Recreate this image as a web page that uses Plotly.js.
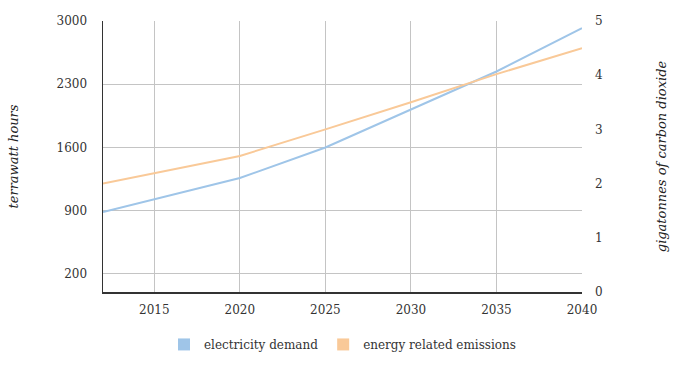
<!DOCTYPE html>
<html>
<head>
<meta charset="utf-8">
<script src="https://cdn.plot.ly/plotly-3.0.1.min.js"></script>
<style>html,body{margin:0;padding:0;background:#fff}#chart{width:684px;height:370px}</style>
</head>
<body>
<div id="chart"></div>
<script>
const years = [2012, 2020, 2025, 2030, 2035, 2040];
const electricityDemand = [886, 1262, 1600, 2020, 2441, 2920];
const energyEmissions = [2.0, 2.51, 3.0, 3.5, 4.02, 4.5];
const seriesNames = ['electricity demand', 'energy related emissions'];
const leftTicks = [200, 900, 1600, 2300, 3000];
const rightTicks = [0, 1, 2, 3, 4, 5];
const xTicks = [2015, 2020, 2025, 2030, 2035, 2040];

const blue = '#9fc5e8';
const orange = '#f9c998';
const font = 'Georgia, "DejaVu Serif", serif';

const traces = [
  {x: years, y: electricityDemand, mode: 'lines', line: {color: blue, width: 2}, showlegend: false, yaxis: 'y', hoverinfo: 'skip'},
  {x: years, y: energyEmissions, mode: 'lines', line: {color: orange, width: 2}, showlegend: false, yaxis: 'y2', hoverinfo: 'skip'},
  {type: 'bar', x: [null], y: [null], name: seriesNames[0], marker: {color: blue}},
  {type: 'bar', x: [null], y: [null], name: seriesNames[1], marker: {color: orange}}
];

const layout = {
  width: 684, height: 370,
  margin: {l: 103, r: 102, t: 21, b: 78, autoexpand: false},
  paper_bgcolor: '#fff', plot_bgcolor: '#fff',
  font: {family: font, size: 12, color: '#333'},
  showlegend: true,
  legend: {orientation: 'h', x: 0.5, xanchor: 'center', y: -0.14, yanchor: 'top', font: {size: 12, color: '#333'}, itemwidth: 30, traceorder: 'normal'},
  xaxis: {
    range: [2012, 2040], tickvals: xTicks, ticktext: xTicks.map(String),
    showgrid: true, gridcolor: '#c4c4c4', gridwidth: 1,
    showline: true, linecolor: '#333', linewidth: 1.5,
    ticks: '', zeroline: false, ticklabelstandoff: 6, automargin: false,
    tickfont: {size: 12, color: '#333'}
  },
  yaxis: {
    range: [0, 3000], tickvals: leftTicks, ticktext: leftTicks.map(String),
    showgrid: true, gridcolor: '#c4c4c4', gridwidth: 1,
    showline: true, linecolor: '#333', linewidth: 1.5,
    ticks: '', zeroline: false, ticklabelstandoff: 12, automargin: false,
    tickfont: {size: 12, color: '#333'},
    title: {text: 'terrawatt hours', font: {size: 13, color: '#222', family: font, style: 'italic'}, standoff: 35}
  },
  yaxis2: {
    overlaying: 'y', side: 'right', range: [0, 5],
    tickvals: rightTicks, ticktext: rightTicks.map(String),
    showgrid: false, showline: false, ticks: '', zeroline: false, ticklabelstandoff: 12, automargin: false,
    tickfont: {size: 12, color: '#333'},
    title: {text: 'gigatonnes of carbon dioxide', font: {size: 13, color: '#222', family: font, style: 'italic'}, standoff: 54}
  }
};

Plotly.newPlot('chart', traces, layout, {displayModeBar: false, staticPlot: true});
</script>
</body>
</html>
